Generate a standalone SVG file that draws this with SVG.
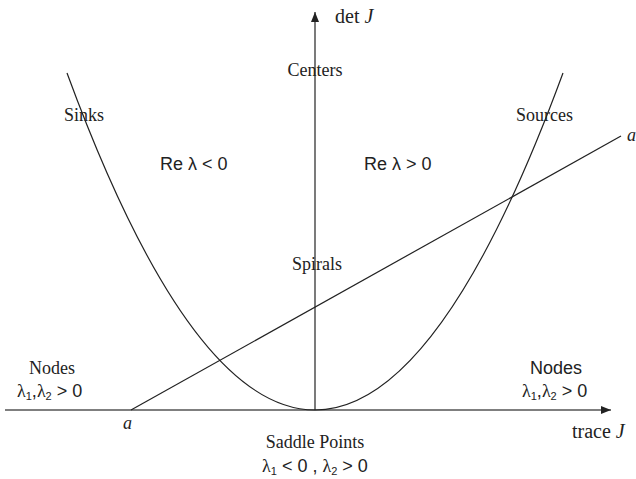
<svg xmlns="http://www.w3.org/2000/svg" width="636" height="479" viewBox="0 0 636 479">
<style>
.serif{font-family:"Liberation Serif","Times New Roman",serif;font-size:18px;fill:#222}
.big{font-size:20px}
.sans{font-family:"Liberation Sans",Arial,sans-serif;font-size:18px;fill:#222}
.it{font-style:italic}
.sub{font-size:11px}
.ln{fill:none;stroke:#222;stroke-width:1.2}
</style>
<defs>
<marker id="arr" viewBox="0 0 10 8" refX="10" refY="4" markerWidth="10" markerHeight="8" markerUnits="userSpaceOnUse" orient="auto">
<path d="M0,0 L10,4 L0,8 Z" fill="#222"/>
</marker>
</defs>
<g id="connectors">
<line x1="5" y1="410" x2="611" y2="410" stroke="#555" stroke-width="1.4" marker-end="url(#arr)"/>
<line x1="315" y1="410" x2="315" y2="12" class="ln" marker-end="url(#arr)"/>
<path d="M67,73 Q315,747 563,73" class="ln"/>
<line x1="131" y1="410" x2="621" y2="136" class="ln"/>
</g>
<g id="axis-labels">
<text x="335" y="23" class="serif big">det <tspan class="it">J</tspan></text>
<text x="572" y="438" class="serif big">trace <tspan class="it">J</tspan></text>
<text x="123" y="429" class="serif it">a</text>
<text x="627" y="141" class="serif it">a</text>
</g>
<g id="centers"><text x="315" y="76" class="serif" text-anchor="middle">Centers</text></g>
<g id="sinks"><text x="64" y="121" class="serif">Sinks</text></g>
<g id="sources"><text x="516" y="121" class="serif">Sources</text></g>
<g id="re-neg"><text x="160" y="170" class="sans">Re λ &lt; 0</text></g>
<g id="re-pos"><text x="364" y="170" class="sans">Re λ &gt; 0</text></g>
<g id="spirals"><text x="292" y="270" class="serif">Spirals</text></g>
<g id="nodes-left">
<text x="52" y="374" class="serif" text-anchor="middle">Nodes</text>
<text x="17" y="397" class="sans"><tspan class="serif">λ</tspan><tspan class="sub" dy="3">1</tspan><tspan dy="-3">,</tspan><tspan class="serif">λ</tspan><tspan class="sub" dy="3">2</tspan><tspan dy="-3"> &gt; 0</tspan></text>
</g>
<g id="nodes-right">
<text x="556" y="374" class="sans" text-anchor="middle">Nodes</text>
<text x="522" y="397" class="sans"><tspan class="serif">λ</tspan><tspan class="sub" dy="3">1</tspan><tspan dy="-3">,</tspan><tspan class="serif">λ</tspan><tspan class="sub" dy="3">2</tspan><tspan dy="-3"> &gt; 0</tspan></text>
</g>
<g id="saddle">
<text x="315" y="448" class="serif" text-anchor="middle">Saddle Points</text>
<text x="315" y="472" class="sans" text-anchor="middle"><tspan class="serif">λ</tspan><tspan class="sub" dy="3">1</tspan><tspan dy="-3"> &lt; 0 , </tspan><tspan class="serif">λ</tspan><tspan class="sub" dy="3">2</tspan><tspan dy="-3"> &gt; 0</tspan></text>
</g>
</svg>
